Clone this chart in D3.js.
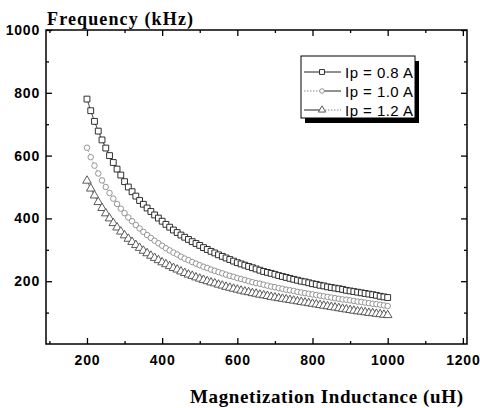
<!DOCTYPE html>
<html>
<head>
<meta charset="utf-8">
<script src="https://cdn.jsdelivr.net/npm/d3@7"></script>
<style>
  body { margin: 0; background: #fff; }
  svg { display: block; }
  .tick text { font-family: "Liberation Sans", Arial, sans-serif; font-weight: bold; font-size: 14px; letter-spacing: 0.8px; fill: #000; }
</style>
</head>
<body>
<div id="chart"></div>
<script>
// inductance (uH)
const inductance = [200,210,220,230,240,250,260,270,280,290,300,310,320,330,340,350,360,370,380,390,
  400,410,420,430,440,450,460,470,480,490,500,510,520,530,540,550,560,570,580,590,
  600,610,620,630,640,650,660,670,680,690,700,710,720,730,740,750,760,770,780,790,
  800,810,820,830,840,850,860,870,880,890,900,910,920,930,940,950,960,970,980,990,1000];

// frequency (kHz) per peak current
const freq08 = [780,743,709,678,650,624,600,578,557,538,517,500,485,471,457,445,433,422,411,401,
  391,381,372,363,355,347,340,333,326,320,314,307,301,295,290,284,279,274,269,264,
  259,255,251,247,243,239,235,231,228,225,222,218,215,212,209,206,203,200,198,195,
  192,190,187,185,182,180,178,176,174,171,169,167,165,163,161,159,157,155,152,150,148];
const freq10 = [625,595,568,543,521,500,481,463,446,431,417,403,391,379,368,357,347,338,329,321,
  313,305,298,291,285,278,272,267,261,256,251,246,242,237,233,229,225,221,217,214,
  210,207,204,200,197,194,192,189,186,183,181,178,176,173,171,169,166,164,162,160,
  158,156,154,152,150,148,146,144,142,141,139,137,135,134,132,130,128,127,125,123,121];
const freq12 = [520,495,473,452,433,416,400,385,371,358,346,335,325,315,306,297,289,281,274,267,
  260,254,248,242,237,231,226,221,217,212,208,204,200,196,193,189,186,182,179,176,
  173,170,167,165,162,160,157,155,153,150,148,146,144,142,140,138,136,134,132,130,
  128,126,124,122,120,118,116,114,112,110,108,106,104,103,101,99,98,96,95,93,92];

const seriesNames = ["Ip = 0.8 A", "Ip = 1.0 A", "Ip = 1.2 A"];
const xTicks = [200, 400, 600, 800, 1000, 1200];
const xMinor = [100, 300, 500, 700, 900, 1100];
const yTicks = [200, 400, 600, 800, 1000];
const yMinor = [100, 300, 500, 700, 900];

const W = 480, H = 408;
const plotLeft = 46, plotRight = 467, plotTop = 30, plotBottom = 344;

const svg = d3.select("#chart").append("svg")
  .attr("width", W)
  .attr("height", H);

const x = d3.scaleLinear().domain([91, 1211]).range([plotLeft, plotRight]);
const y = d3.scaleLinear().domain([0, 1000]).range([plotBottom, plotTop]);

// axes, ticks inward on all four sides
function styleAxis(g) {
  g.select(".domain").remove();
  g.selectAll(".tick line").attr("stroke", "#000").attr("stroke-width", 1.3);
}

svg.append("g").attr("transform", `translate(0,${plotBottom})`)
  .call(d3.axisBottom(x).tickValues(xTicks).tickSize(-6).tickPadding(11).tickFormat(d3.format("d")))
  .call(styleAxis);
svg.append("g").attr("transform", `translate(0,${plotBottom})`)
  .call(d3.axisBottom(x).tickValues(xMinor).tickSize(-3).tickFormat(""))
  .call(styleAxis);
svg.append("g").attr("transform", `translate(0,${plotTop})`)
  .call(d3.axisTop(x).tickValues(xTicks).tickSize(-6).tickFormat(""))
  .call(styleAxis);
svg.append("g").attr("transform", `translate(0,${plotTop})`)
  .call(d3.axisTop(x).tickValues(xMinor).tickSize(-3).tickFormat(""))
  .call(styleAxis);

svg.append("g").attr("transform", `translate(${plotLeft},0)`)
  .call(d3.axisLeft(y).tickValues(yTicks).tickSize(-6).tickPadding(6).tickFormat(d3.format("d")))
  .call(styleAxis);
svg.append("g").attr("transform", `translate(${plotLeft},0)`)
  .call(d3.axisLeft(y).tickValues(yMinor).tickSize(-3).tickFormat(""))
  .call(styleAxis);
svg.append("g").attr("transform", `translate(${plotRight},0)`)
  .call(d3.axisRight(y).tickValues(yTicks).tickSize(-6).tickFormat(""))
  .call(styleAxis);
svg.append("g").attr("transform", `translate(${plotRight},0)`)
  .call(d3.axisRight(y).tickValues(yMinor).tickSize(-3).tickFormat(""))
  .call(styleAxis);

// frame
svg.append("rect")
  .attr("x", plotLeft).attr("y", plotTop)
  .attr("width", plotRight - plotLeft).attr("height", plotBottom - plotTop)
  .attr("fill", "none").attr("stroke", "#000").attr("stroke-width", 1.5);

// axis titles
svg.append("text")
  .attr("x", 47).attr("y", 25)
  .attr("textLength", 146)
  .style("font-family", "'Liberation Serif', 'Times New Roman', serif")
  .style("font-weight", "bold")
  .style("font-size", "18px")
  .text("Frequency (kHz)");

svg.append("text")
  .attr("x", 190).attr("y", 403)
  .attr("textLength", 273)
  .style("font-family", "'Liberation Serif', 'Times New Roman', serif")
  .style("font-weight", "bold")
  .style("font-size", "19px")
  .text("Magnetization Inductance (uH)");

// series
const sym = [d3.symbolSquare, d3.symbolCircle, d3.symbolTriangle];
const symSize = [34, 24, 32];
const strokes = ["#1a1a1a", "#8a8a8a", "#4a4a4a"];
const dashes = [null, "1.5,1.5", null];
const allSeries = [freq08, freq10, freq12];

const line = d3.line()
  .x((d, i) => x(inductance[i]))
  .y(d => y(d));

allSeries.forEach((vals, s) => {
  svg.append("path")
    .datum(vals)
    .attr("d", line)
    .attr("fill", "none")
    .attr("stroke", strokes[s])
    .attr("stroke-width", 0.8)
    .attr("stroke-dasharray", dashes[s]);

  svg.append("g").selectAll("path")
    .data(vals)
    .join("path")
    .attr("transform", (d, i) => `translate(${x(inductance[i])},${y(d)})`)
    .attr("d", d3.symbol().type(sym[s]).size(symSize[s]))
    .attr("fill", "#fff")
    .attr("stroke", strokes[s])
    .attr("stroke-width", 0.9);
});

// legend with drop shadow
const lg = svg.append("g");
lg.append("rect")
  .attr("x", 305).attr("y", 61).attr("width", 114).attr("height", 62)
  .attr("fill", "#000");
lg.append("rect")
  .attr("x", 301).attr("y", 56).attr("width", 114).attr("height", 62)
  .attr("fill", "#fff").attr("stroke", "#000").attr("stroke-width", 1);

const legendRows = [72, 91, 110];
const legendDash = [[null, null], ["1.5,1.5", null], [null, "1.5,1.5"]];
seriesNames.forEach((name, s) => {
  const ly = legendRows[s];
  lg.append("line")
    .attr("x1", 304).attr("x2", 322).attr("y1", ly).attr("y2", ly)
    .attr("stroke", s === 1 ? "#888" : "#222").attr("stroke-width", 1)
    .attr("stroke-dasharray", legendDash[s][0]);
  lg.append("line")
    .attr("x1", 322).attr("x2", 341).attr("y1", ly).attr("y2", ly)
    .attr("stroke", s === 2 ? "#888" : "#222").attr("stroke-width", 1)
    .attr("stroke-dasharray", legendDash[s][1]);
  lg.append("path")
    .attr("transform", `translate(322,${ly})`)
    .attr("d", d3.symbol().type(sym[s]).size(symSize[s] * 0.7))
    .attr("fill", "#fff")
    .attr("stroke", strokes[s])
    .attr("stroke-width", 0.9);
  lg.append("text")
    .attr("x", 345).attr("y", ly + 5.5)
    .attr("textLength", 68)
    .style("font-family", "'Liberation Sans', Arial, sans-serif")
    .style("font-size", "15px")
    .text(name);
});
</script>
</body>
</html>
